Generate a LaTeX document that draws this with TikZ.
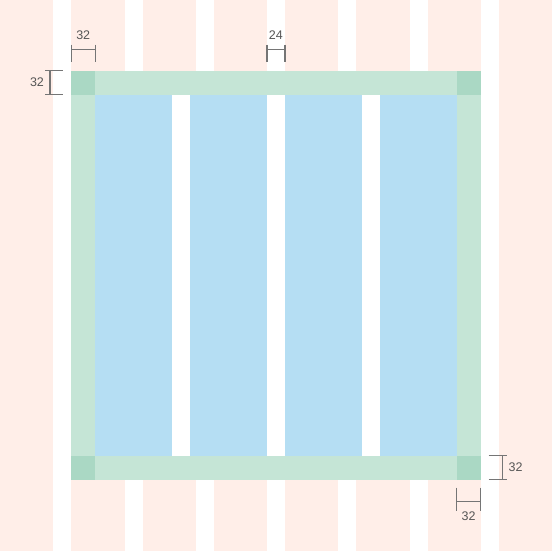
\documentclass[tikz,border=0pt]{standalone}
\usepackage{fontspec}
\setmainfont{Liberation Sans}
\usetikzlibrary{positioning}
\definecolor{colpink}{HTML}{FFEEE8}
\definecolor{framegreen}{HTML}{C5E5D6}
\definecolor{cornergreen}{HTML}{AAD8C4}
\definecolor{colblue}{HTML}{B5DEF3}
\definecolor{dimgray}{HTML}{757575}
\definecolor{lblgray}{HTML}{555555}
\tikzset{
  gridcol/.style  ={fill=colpink,draw=none},
  band/.style     ={fill=framegreen,draw=none},
  corner/.style   ={fill=cornergreen,draw=none},
  content/.style  ={fill=colblue,draw=none},
  dim/.style      ={draw=dimgray,line width=1.2pt},
  dimlbl/.style   ={font=\fontsize{12.5}{14}\selectfont,text=lblgray,inner sep=0pt},
}
\begin{document}
\begin{tikzpicture}[x=1pt,y=-1pt]
\useasboundingbox (0,0) rectangle (552,551);

% Background grid columns
\foreach \i in {0,...,7}
  \fill[gridcol] ({\i*71.25},0) rectangle ({\i*71.25+53.25},551);

% Frame (margins)
\fill[white] (71.25,70.75) rectangle (480.5,479.5);
\fill[band] (71.25,70.75) rectangle (480.5,94.75);
\fill[band] (71.25,455.5) rectangle (480.5,479.5);
\fill[band] (71.25,70.75) rectangle (95.25,479.5);
\fill[band] (456.5,70.75) rectangle (480.5,479.5);
\fill[corner] (71.25,70.75) rectangle (95.25,94.75);
\fill[corner] (456.5,70.75) rectangle (480.5,94.75);
\fill[corner] (71.25,455.5) rectangle (95.25,479.5);
\fill[corner] (456.5,455.5) rectangle (480.5,479.5);

% Content columns
\foreach \i in {0,...,3}
  \fill[content] ({95.25+\i*94.8125},94.75) rectangle ({95.25+\i*94.8125+76.8125},455.5);

% Dimensions
\draw[dim] (71.25,49.3) -- (95.25,49.3);
\draw[dim] (71.25,44.7) -- (71.25,62.3) (95.25,44.7) -- (95.25,62.3);
\node[dimlbl] (mleft) at (83.25,35) {32};

\draw[dim] (50,70.75) -- (50,94.75);
\draw[dim] (45,70.75) -- (63.3,70.75) (45,94.75) -- (63.3,94.75);
\node[dimlbl] (mtop) at (37,82.5) {32};

\draw[dim] (266.9,49.3) -- (284.9,49.3);
\draw[dim] (266.9,44.7) -- (266.9,62.3) (284.9,44.7) -- (284.9,62.3);
\node[dimlbl] (gutter) at (275.9,35) {24};

\draw[dim] (502.7,455.5) -- (502.7,479.5);
\draw[dim] (488.7,455.5) -- (507.3,455.5) (488.7,479.5) -- (507.3,479.5);
\node[dimlbl] (mbottom) at (515.5,467.5) {32};

\draw[dim] (456.5,501.3) -- (480.5,501.3);
\draw[dim] (456.5,487.7) -- (456.5,511) (480.5,487.7) -- (480.5,511);
\node[dimlbl] (mright) at (468.5,516) {32};

\end{tikzpicture}
\end{document}
